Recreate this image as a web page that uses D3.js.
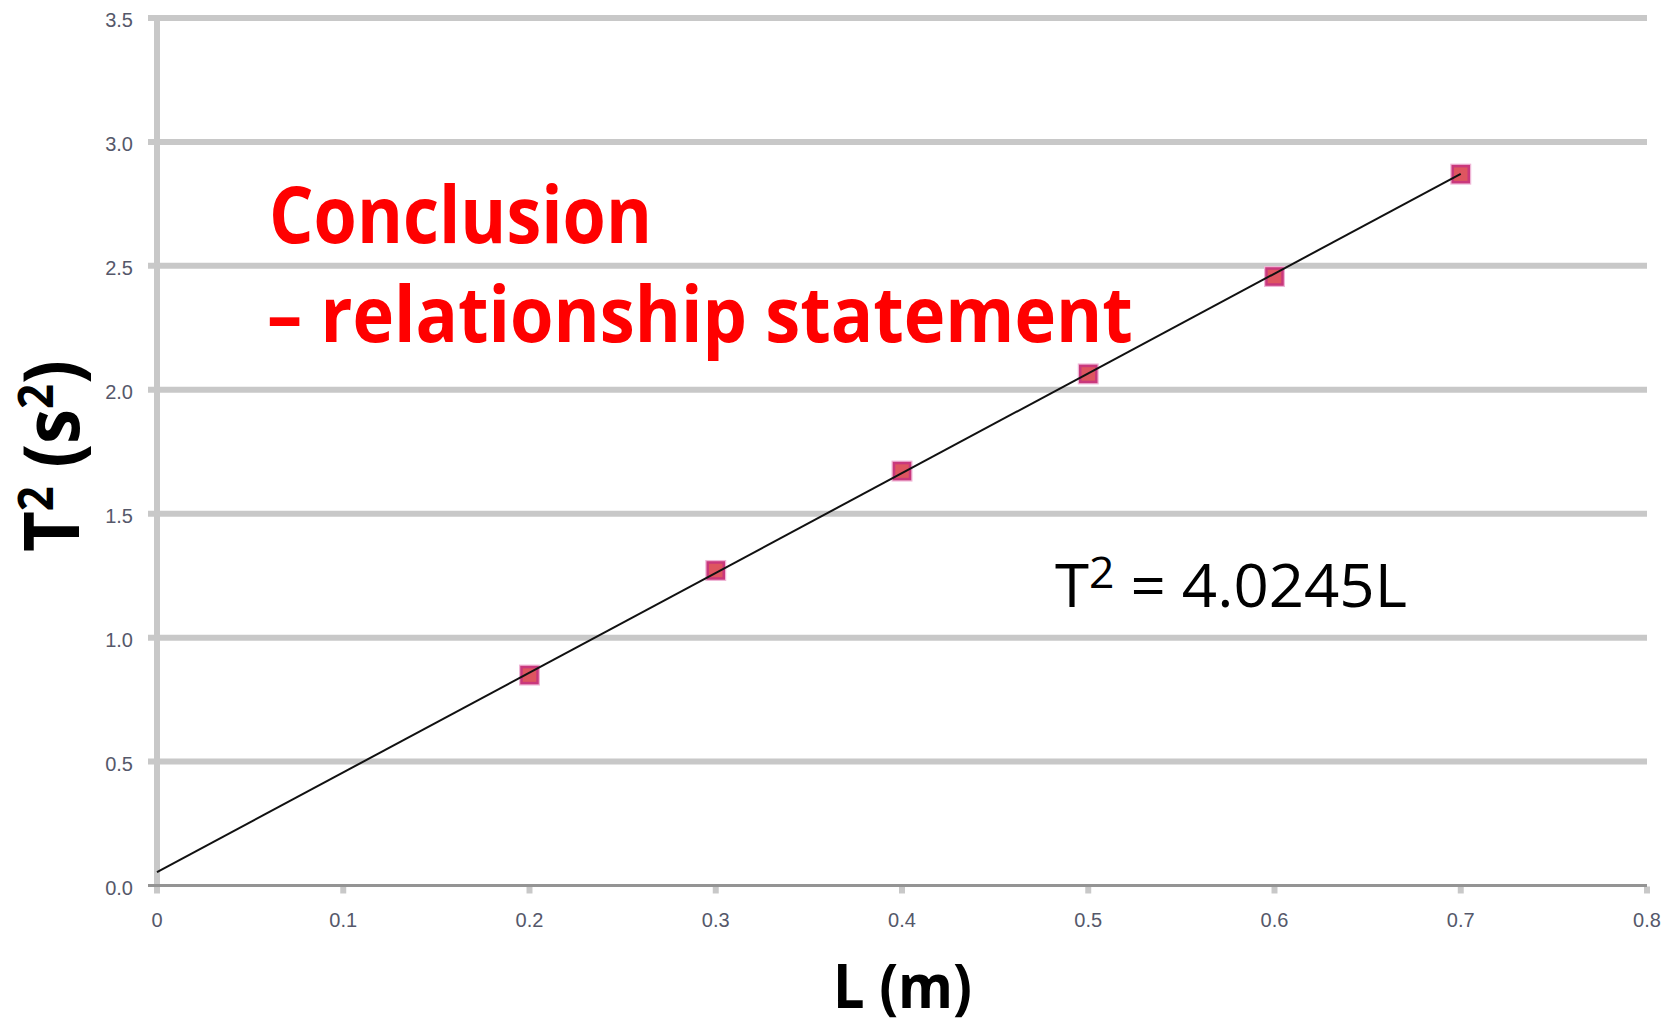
<!DOCTYPE html>
<html>
<head>
<meta charset="utf-8">
<script src="https://cdn.jsdelivr.net/npm/d3@7"></script>
<style>
  html, body { margin: 0; padding: 0; background: #fff; }
  svg { display: block; }
</style>
</head>
<body>
<div id="chart"></div>
<script>
// Pendulum data: length L (m) against period squared T^2 (s^2)
const lengths = [0.2, 0.3, 0.4, 0.5, 0.6, 0.7];
const periodSq = [0.849, 1.271, 1.672, 2.064, 2.457, 2.870];

// trend line as reported on the chart (plus the small offset seen at L = 0)
const trendSlope = 4.0245;
const trendIntercept = 0.054;
const trendRange = [0, 0.7];

const xTicks = [0, 0.1, 0.2, 0.3, 0.4, 0.5, 0.6, 0.7, 0.8];
const xTickLabels = ["0", "0.1", "0.2", "0.3", "0.4", "0.5", "0.6", "0.7", "0.8"];
const yTicks = [0, 0.5, 1.0, 1.5, 2.0, 2.5, 3.0, 3.5];

const width = 1675,
  height = 1024;

const svg = d3
  .select("#chart")
  .append("svg")
  .attr("width", width)
  .attr("height", height);

svg.append("rect").attr("width", width).attr("height", height).attr("fill", "#fff");

const x = d3.scaleLinear().domain([0, 0.8]).range([157, 1647]);
const y = d3.scaleLinear().domain([0, 3.5]).range([885.5, 18]);

// horizontal gridlines (the 0 line is the axis itself)
svg
  .append("g")
  .selectAll("line")
  .data(yTicks.filter((t) => t > 0))
  .enter()
  .append("line")
  .attr("x1", x(0) - 9)
  .attr("x2", x(0.8))
  .attr("y1", (d) => y(d))
  .attr("y2", (d) => y(d))
  .attr("stroke", "#c8c8c8")
  .attr("stroke-width", 6);

// vertical axis line, runs a little below the x axis like a tick
svg
  .append("line")
  .attr("x1", x(0))
  .attr("x2", x(0))
  .attr("y1", y(3.5) - 3)
  .attr("y2", y(0) + 8)
  .attr("stroke", "#c8c8c8")
  .attr("stroke-width", 6);

// x ticks: small grey stubs under the axis
svg
  .append("g")
  .selectAll("line")
  .data(xTicks.filter((t) => t > 0))
  .enter()
  .append("line")
  .attr("x1", (d) => x(d))
  .attr("x2", (d) => x(d))
  .attr("y1", y(0) + 1)
  .attr("y2", y(0) + 8)
  .attr("stroke", "#c8c8c8")
  .attr("stroke-width", 6);

// x axis line
svg
  .append("line")
  .attr("x1", x(0) - 9)
  .attr("x2", x(0.8))
  .attr("y1", y(0))
  .attr("y2", y(0))
  .attr("stroke", "#949494")
  .attr("stroke-width", 3);

// tick labels
const tickFont = "'Liberation Sans', Arial, sans-serif";

svg
  .append("g")
  .selectAll("text")
  .data(yTicks)
  .enter()
  .append("text")
  .attr("x", 133)
  .attr("y", (d) => y(d) + 9)
  .attr("text-anchor", "end")
  .attr("font-family", tickFont)
  .attr("font-size", "20px")
  .attr("fill", "#55586a")
  .text(d3.format(".1f"));

svg
  .append("g")
  .selectAll("text")
  .data(xTicks)
  .enter()
  .append("text")
  .attr("x", (d) => x(d))
  .attr("y", y(0) + 41)
  .attr("text-anchor", "middle")
  .attr("font-family", tickFont)
  .attr("font-size", "20px")
  .attr("fill", "#55586a")
  .text((d, i) => xTickLabels[i]);

// markers
const markers = svg
  .append("g")
  .selectAll("g")
  .data(lengths.map((l, i) => ({ l: l, t: periodSq[i] })))
  .enter()
  .append("g")
  .attr("transform", (d) => `translate(${x(d.l)},${y(d.t)})`);

markers
  .append("rect")
  .attr("x", -10.5)
  .attr("y", -10.5)
  .attr("width", 21)
  .attr("height", 21)
  .attr("fill", "#efb6d6");

markers
  .append("rect")
  .attr("x", -8)
  .attr("y", -8)
  .attr("width", 16)
  .attr("height", 16)
  .attr("fill", "#de5560")
  .attr("stroke", "#c9387c")
  .attr("stroke-width", 2.5);

// trend line, drawn over the markers
const trend = d3
  .line()
  .x((d) => x(d))
  .y((d) => y(trendIntercept + trendSlope * d));

svg
  .append("path")
  .datum(trendRange)
  .attr("d", trend)
  .attr("fill", "none")
  .attr("stroke", "#111")
  .attr("stroke-width", 2);

// text blocks are squeezed horizontally to the widths of the original font
const labelFont = "'Open Sans', 'Noto Sans', sans-serif";

function placeText(g, px, py, w, rot) {
  const bw = g.node().getBBox().width;
  const k = w / bw;
  g.attr("transform", `translate(${px},${py}) rotate(${rot || 0}) scale(${k},1)`);
}

function addText(px, py, w, size, weight, color, parts, rot) {
  const g = svg.append("g");
  const t = g
    .append("text")
    .attr("font-family", labelFont)
    .attr("font-size", size + "px")
    .attr("font-weight", weight)
    .attr("fill", color);
  parts.forEach((p) => {
    const s = t.append("tspan").text(p.text);
    if (p.sup) {
      s.attr("font-size", size * p.sup + "px").attr("dy", -p.rise);
    } else if (p.drop) {
      s.attr("dy", p.drop);
    }
  });
  placeText(g, px, py, w, rot);
  return g;
}

addText(269, 243, 383, 78, 700, "#ff0000", [{ text: "Conclusion" }]);
addText(267, 342, 866, 78, 700, "#ff0000", [{ text: "\u2013 relationship statement" }]);

addText(1055, 607, 352, 60, 400, "#000", [
  { text: "T" },
  { text: "2", sup: 0.72, rise: 19 },
  { text: " = 4.0245L", drop: 19 },
]);

addText(833, 1008, 139, 61, 700, "#000", [{ text: "L (m)" }]);

addText(
  79,
  552,
  192,
  78,
  700,
  "#000",
  [
    { text: "T" },
    { text: "2", sup: 0.62, rise: 26 },
    { text: " (s", drop: 26 },
    { text: "2", sup: 0.62, rise: 26 },
    { text: ")", drop: 26 },
  ],
  -90
);
</script>
</body>
</html>
